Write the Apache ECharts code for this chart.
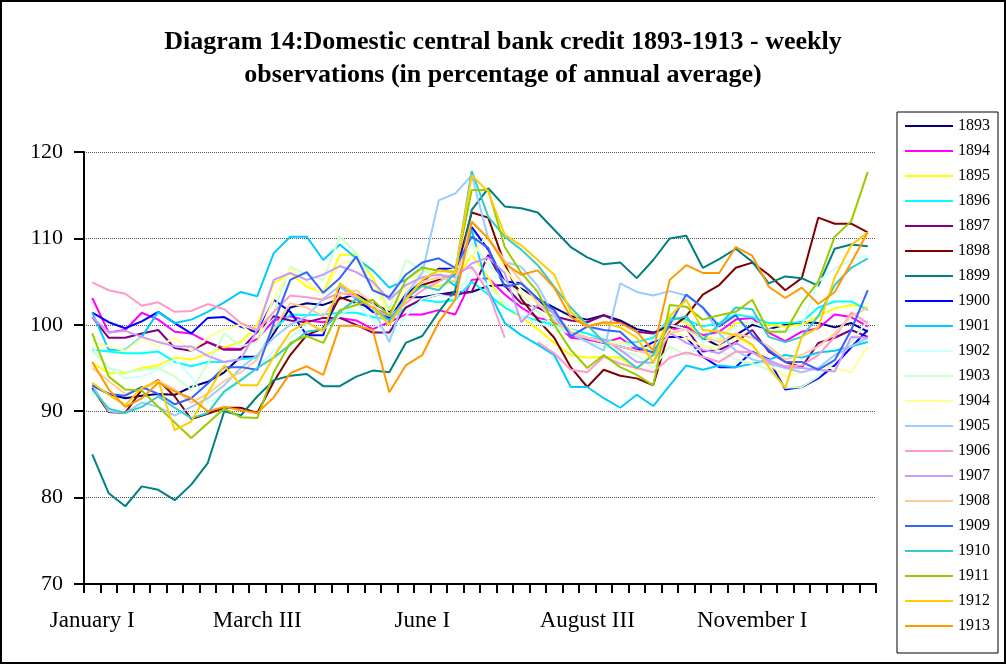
<!DOCTYPE html>
<html>
<head>
<meta charset="utf-8">
<title>Domestic central bank credit 1893-1913</title>
<script src="https://cdn.jsdelivr.net/npm/echarts@6/dist/echarts.min.js"></script>
<style>
  html, body { margin: 0; padding: 0; background: #fff; }
  #wrap { position: relative; width: 1006px; height: 664px; }
  #chart { position: absolute; left: 0; top: 0; width: 1006px; height: 664px; }
  #frame { position: absolute; left: 0; top: 0; width: 1006px; height: 664px; box-sizing: border-box;
           border: 2px solid #000; pointer-events: none; }
</style>
</head>
<body>
<div id="wrap">
  <div id="chart"></div>
  <div id="frame"></div>
</div>
<script>
// weekly categories: four observations per month
const months = ['January', 'February', 'March', 'April', 'May', 'June', 'July',
  'August', 'September', 'October', 'November', 'December']
const weeks = ['I', 'II', 'III', 'IV']
const categories = months.flatMap(m => weeks.map(w => m + ' ' + w))

const yTicks = { min: 70, max: 120, step: 10 }

const years = ['1893', '1894', '1895', '1896', '1897', '1898', '1899', '1900', '1901', '1902',
  '1903', '1904', '1905', '1906', '1907', '1908', '1909', '1910', '1911', '1912', '1913']

const y1893 = [93, 92, 91.5, 91.8, 92, 91.9, 92.8, 93.4, 94.5, 96.3, 96.3, 99,
  102, 102.5, 102.3, 103, 103.5, 102.5, 101.5, 103.2, 103.2, 103.5, 103.8, 103.8,
  104.5, 104.6, 104.2, 103, 102, 101, 100.6, 101.1, 100.5, 99.5, 99.1, 99.8,
  99.6, 98.5, 97.5, 98.8, 100, 99.5, 100, 100.3, 100.2, 99.7, 100.2, 99.2]
const y1894 = [103.1, 99.1, 99.4, 101.4, 100.6, 99.2, 99, 98, 97.3, 97.2, 98.4, 100.5,
  101, 100.5, 100.3, 100.8, 100.5, 99.5, 100.3, 101.2, 101.2, 101.7, 101.2, 105.2,
  105.4, 103.5, 102, 100.8, 100.4, 98.5, 98.3, 97.9, 98.5, 97.1, 97.1, 99.4,
  99.8, 98.8, 99.2, 100.6, 100.8, 99.1, 98.1, 99.2, 99.6, 101.2, 100.9, 99.8]
const y1895 = [95.6, 94.4, 94.4, 95, 95.3, 96.2, 96, 96.6, 97.4, 98, 100, 104.8,
  106, 104.4, 103.7, 108.1, 108.1, 105.5, 101.7, 103.5, 104.5, 104.5, 105, 108.1,
  105.5, 102, 100.9, 99.5, 97.9, 96.5, 96.2, 96.3, 96.2, 94.8, 96.7, 101.2,
  100.2, 98.6, 98.3, 100.2, 100.2, 100, 99.8, 100, 101, 101.9, 102.3, 102]
const y1896 = [97.1, 96.9, 96.7, 96.7, 96.9, 95.7, 95.2, 95.7, 95.7, 96, 96.2, 99.5,
  101.2, 101.1, 101.2, 101.4, 101.4, 100.9, 100.6, 102, 102.9, 102.6, 102.9, 105,
  103.5, 102, 101, 100.5, 100, 99.5, 99, 98.3, 97.9, 98, 98.5, 100.8,
  100.6, 99.8, 100.2, 101.2, 100.9, 100.2, 100.2, 100.3, 102, 102.7, 102.7, 101.7]
const y1897 = [100.9, 98.5, 98.5, 99, 99.4, 97.3, 97, 98, 97.1, 97.1, 99.2, 101,
  100.5, 100.3, 100.8, 100.8, 100, 99.1, 99.1, 102, 103, 103.5, 103.5, 103.8,
  108.1, 104.5, 102.5, 102, 101, 100.5, 100.3, 101.1, 100.3, 99.2, 99, 100,
  99.6, 96.9, 97.1, 98, 99.4, 96.9, 95.7, 95.1, 97.9, 98.5, 99.4, 98.6]
const y1898 = [92.7, 89.9, 89.8, 92.5, 93.6, 91.7, 89.1, 89.7, 90.4, 90.4, 89.8, 93.4,
  96.5, 98.8, 99.6, 103.2, 102.5, 102, 101, 103.4, 104.6, 105.2, 105.8, 113,
  112.4, 107, 103, 100.6, 98.5, 95.1, 92.8, 94.8, 94.1, 93.8, 93, 99.5,
  101, 103.5, 104.6, 106.6, 107.2, 105.8, 104, 105.4, 112.4, 111.7, 111.7, 110.7]
const y1899 = [85, 80.5, 79, 81.3, 80.9, 79.7, 81.5, 84, 90, 89.5, 91.7, 93.6,
  94.1, 94.3, 92.9, 92.9, 94, 94.7, 94.5, 97.9, 98.7, 101.5, 104, 113.3,
  115.8, 113.7, 113.5, 113, 111, 109, 107.8, 107, 107.2, 105.4, 107.5, 110,
  110.3, 106.6, 107.6, 108.8, 107.3, 104.8, 105.6, 105.4, 104.5, 108.8, 109.3, 109.1]
const y1900 = [101.4, 100.3, 99.6, 100.4, 101.5, 100.2, 99, 100.8, 100.9, 99.8, 99.1, 102.9,
  101.5, 98.8, 98.8, 104.5, 103, 101.5, 100.8, 103.5, 105, 106.5, 106.5, 111.3,
  108.7, 105, 104.8, 103, 101, 98.8, 98.5, 98, 97.5, 97, 98, 98.6,
  98.6, 96.3, 95.1, 95.1, 96.9, 96, 92.5, 92.8, 93.8, 95.3, 97.4, 99.4]
const y1901 = [101.4, 97.1, 97.1, 98.6, 101.5, 100.2, 100.6, 101.5, 102.6, 103.8, 103.3, 108.3,
  110.2, 110.2, 107.5, 109.3, 107.7, 106.3, 104.3, 105.2, 106.7, 106, 104.5, 111,
  104, 100.2, 98.8, 97.7, 96.5, 92.8, 92.8, 91.5, 90.4, 91.9, 90.6, 93,
  95.3, 94.8, 95.3, 95.1, 95.5, 96, 96.5, 96.2, 96.8, 97, 97.5, 98]
const y1902 = [97.5, 95, 93.8, 94, 94.8, 96, 94, 91, 92, 93.5, 95, 97,
  98.5, 100, 99.5, 101, 102.5, 100.5, 98.5, 101, 103, 103.5, 103, 106.5,
  104.5, 102.5, 101, 100.2, 99.6, 99, 98.5, 98, 97.8, 97.5, 97.2, 100,
  99.5, 98, 98.5, 99.8, 100.3, 99.5, 99.2, 99.8, 105, 106.5, 107.5, 108]
const y1903 = [97, 95, 94.5, 94.8, 95, 94, 92.5, 95.5, 99, 97.5, 98, 101.5,
  106.7, 105.8, 105.2, 110.2, 108.3, 104.8, 101.7, 107.5, 106.3, 105.8, 105.5, 109.5,
  107, 105, 103.5, 101.5, 100, 99, 98, 97.5, 97, 96.5, 95, 97.5,
  96.5, 97.5, 97, 96, 95.5, 94.8, 92.7, 92.8, 94, 96, 98, 100.5]
const y1904 = [98, 97.5, 97, 98.5, 97.5, 98.5, 97, 98.5, 99.5, 100, 98.5, 103,
  106.5, 105, 103.5, 107, 107.5, 105, 101, 104, 106.5, 106, 106.5, 108,
  110.5, 106.5, 104, 102.5, 101, 99.5, 98.5, 98, 98, 97.5, 97, 99.5,
  98.5, 97.5, 97.5, 98.5, 97.5, 95.5, 94, 94.5, 95, 95, 94.5, 97.5]
const y1905 = [93, 90, 89.8, 91, 90.5, 89.5, 90.5, 91.5, 93, 95, 96.5, 98.5,
  100, 101, 103, 104.5, 103, 102, 98, 103.5, 106, 114.4, 115.2, 117.3,
  110, 107.3, 106.7, 104.5, 101, 99, 98, 97, 104.8, 103.8, 103.4, 103.9,
  103.4, 102, 99, 97, 96, 95.5, 95, 94.5, 95, 96.5, 97.5, 98.5]
const y1906 = [104.9, 104, 103.6, 102.2, 102.6, 101.5, 101.6, 102.4, 101.8, 100.2, 99.4, 101.5,
  103.4, 103.2, 102.9, 103.7, 103.3, 101.9, 101, 102.5, 104, 105, 106, 106.7,
  103.8, 98.5, null, 98, 96.7, 94.8, 94.5, 96.3, 95.5, 95, 94.5, 96.2,
  96.8, 96.3, 95.7, 96.9, 96.8, 95.7, 95.2, 95.3, 96.5, 98.6, 101.4, 100.2]
const y1907 = [100.9, 99.1, 99.3, 98.6, 98, 97.5, 97.5, 96.4, 95.7, 96, 99.4, 105.2,
  106, 105.2, 105.8, 106.8, 106.1, 105, 102.9, 104.6, 105.5, 105.8, 105.5, 107.1,
  107.8, 106, 100.3, 102.3, 101.4, 99.1, 98.5, 98.3, 97.1, 95.7, 95.6, 99.1,
  97.9, 97.1, 96.7, 97.9, 96.8, 95.9, 95.1, 95, 94.8, 94.6, 98.6, 98.5]
const y1908 = [95, 93.5, 92, 92.5, 93.5, 92.5, 91, 92, 93.5, 94.5, 96, 99.5,
  102.5, 102, 101, 103.5, 104, 102.5, 100, 103, 105, 105.5, 105, 112,
  110, 107.5, 105, 102.5, 100.5, 99, 98.5, 98, 97.5, 97, 96.5, 99,
  99.5, 98.5, 98, 99, 98.5, 97.5, 96, 96.5, 97.5, 99, 101, 102]
const y1909 = [93, 92, 91.8, 92.8, 92, 90.8, 91.5, 93.2, 95.1, 95.1, 94.8, 100.2,
  105.2, 106.1, 103.7, 105.4, 107.9, 104, 103.2, 105.8, 107.2, 107.7, 106.6, 110.2,
  108.9, 104.4, 104.8, 103, 101.7, 98.7, 99.8, 99.4, 99.2, 97.4, 96.8, 100,
  103.5, 102, 99.8, 101.1, 98.8, 97.1, 95.7, 95.7, 94.8, 95.9, 99.4, 104]
const y1910 = [92.5, 90.3, 89.8, 90.5, 91.7, 90.4, 89.2, 89.8, 92.3, 93.6, 95, 96.2,
  97.7, 99.2, 99.5, 101.5, 103, 102, 100.5, 103, 104.5, 104, 106, 117.8,
  112.5, 110.2, 108.7, 106.9, 104.4, 102, 100, 98, 96.5, 95, 96.5, 100.5,
  101, 98.3, 100, 102, 101.8, 98.6, 98, 98.6, 101, 104.6, 106.6, 107.7]
const y1911 = [99, 94, 92.5, 92.4, 90.5, 88.7, 86.9, 88.6, 90.3, 89.3, 89.2, 94.5,
  97.9, 98.7, 97.9, 101.7, 102.3, 102.9, 101, 105.2, 106.6, 106.3, 106.1, 115.6,
  115.6, 109, 106, 103.8, 100, 97.1, 95, 96.5, 95.1, 94.2, 93, 102.3,
  102.1, 100.6, 101.1, 101.5, 102.9, 99.2, 99.2, 102.5, 105, 110.2, 112, 117.7]
const y1912 = [93.3, 91.9, 90.7, 92.7, 93.5, 87.8, 88.8, 92.1, 95.3, 93, 93, 96.3,
  99.2, 100.3, 99.2, 104.8, 103.4, 102, 100, 102.9, 105.2, 106.3, 106, 117.3,
  115.4, 110.4, 109.2, 107.5, 105.8, 101.5, 99.8, 100.2, 99.7, 98.5, 95.6, 101,
  102.9, 99.4, 99.2, 98.8, 97.7, 95.1, 92.7, 98.6, 99.7, 105.5, 109.2, 110.7]
const y1913 = [95.7, 92.5, 90.5, 91.5, 93.3, 92.3, 91.5, 90, 90.5, 90.1, 89.8, 91.6,
  94.4, 95.2, 94.2, 99.9, 99.9, 99.4, 92.2, 95.3, 96.5, 100.3, 102.9, 111.9,
  110, 107.1, 105.8, 106.3, 104.3, 100.9, 99.8, 100.3, 100.2, 99.2, 97, 105.2,
  106.9, 106, 106, 109, 108, 104.4, 103.1, 104.3, 102.4, 103.8, 107.2, 110.7]

const yearValues = [y1893, y1894, y1895, y1896, y1897, y1898, y1899, y1900, y1901, y1902,
  y1903, y1904, y1905, y1906, y1907, y1908, y1909, y1910, y1911, y1912, y1913]

const palette = ['#000080', '#FF00FF', '#FFFF00', '#00FFFF', '#800080', '#800000', '#008080',
  '#0000FF', '#00CCFF', '#CCFFFF', '#CCFFCC', '#FFFF99', '#99CCFF', '#FF99CC', '#CC99FF',
  '#FFCC99', '#3366FF', '#33CCCC', '#99CC00', '#FFCC00', '#FF9900']

const serif = "'Liberation Serif', 'Times New Roman', serif"

const chart = echarts.init(document.getElementById('chart'), null, { renderer: 'canvas' })

const option = {
  animation: false,
  backgroundColor: '#fff',
  color: palette,
  title: {
    text: 'Diagram 14:Domestic central bank credit 1893-1913 - weekly\nobservations (in percentage of annual average)',
    left: 'center',
    top: 26,
    padding: 0,
    textStyle: {
      fontFamily: serif,
      fontSize: 26,
      fontWeight: 'bold',
      lineHeight: 33,
      color: '#000'
    }
  },
  legend: {
    orient: 'vertical',
    left: 897,
    top: 112,
    padding: [6, 8, 19, 8],
    icon: 'rect',
    itemWidth: 48,
    itemHeight: 2,
    itemGap: 9,
    borderColor: '#000',
    borderWidth: 1,
    backgroundColor: '#fff',
    textStyle: { fontFamily: serif, fontSize: 16, color: '#000' },
    data: years
  },
  grid: { left: 84, right: 130, top: 152, bottom: 80 },
  xAxis: {
    type: 'category',
    data: categories,
    boundaryGap: true,
    axisLine: { lineStyle: { color: '#000', width: 2 } },
    axisTick: { show: true, interval: 0, length: 9, lineStyle: { color: '#000', width: 2 } },
    axisLabel: { interval: 9, margin: 25, fontFamily: serif, fontSize: 23, color: '#000' },
    splitLine: { show: false }
  },
  yAxis: {
    type: 'value',
    min: yTicks.min,
    max: yTicks.max,
    interval: yTicks.step,
    axisLine: { show: true, lineStyle: { color: '#000', width: 2 } },
    axisTick: { show: true, length: 10, lineStyle: { color: '#000', width: 2 } },
    axisLabel: { margin: 21, fontFamily: serif, fontSize: 22, color: '#000' },
    splitLine: { lineStyle: { color: '#555', type: 'dotted', width: 1 } }
  },
  series: years.map((name, i) => ({
    name: name,
    type: 'line',
    data: yearValues[i],
    symbol: 'none',
    connectNulls: false,
    lineStyle: { width: 2 },
    emphasis: { disabled: true }
  }))
}

chart.setOption(option)
</script>
</body>
</html>
